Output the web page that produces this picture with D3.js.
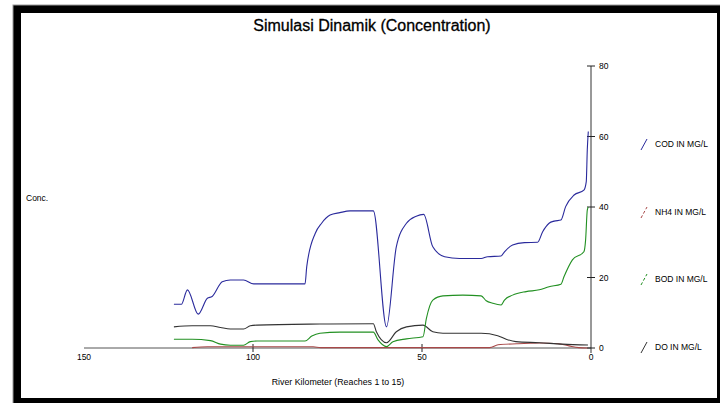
<!DOCTYPE html>
<html>
<head>
<meta charset="utf-8">
<script src="https://cdn.jsdelivr.net/npm/d3@7"></script>
<style>
  html, body { margin: 0; padding: 0; background: #fff; overflow: hidden; }
  text { font-family: "Liberation Sans", Arial, sans-serif; fill: #000; }
</style>
</head>
<body>
<svg id="svg" width="720" height="403"></svg>
<script>
    // River km (x) and concentration (y)
    var codKm  = [123.4, 121.2, 119.4, 116.2, 113.5, 112.1, 109.1, 106.7, 102.8, 99.8, 84.6, 84.1, 81.6, 79.7, 77.2, 74.3, 71.3, 64.4,
                  60.5, 57.6, 54.6, 51.7, 49.5, 46.8, 43.3, 38.9, 32.5, 30.6, 26.6, 25.6, 23.2, 19.7, 15.8, 14.3, 12.4, 10.9, 8.9,
                  7.5, 5.0, 2.1, 1.4, 1.1, 0.8];
    var codVal = [12.4, 12.4, 16.5, 9.6, 14.1, 14.6, 18.8, 19.3, 19.3, 18.2, 18.2, 23.1, 32.5, 35.4, 37.7, 38.4, 38.9, 38.9,
                  6.0, 28.7, 35.4, 37.4, 37.9, 28.7, 25.9, 25.4, 25.4, 25.9, 26.1, 27.3, 29.2, 29.9, 30.0, 33.0, 35.4, 36.0, 36.3,
                  40.1, 43.4, 44.8, 47.2, 56.2, 61.4];

    var bodKm  = [123.4, 118.0, 112.6, 109.6, 106.7, 102.8, 100.8, 98.8, 84.6, 82.6, 80.2, 74.3, 64.4, 63.0, 60.5, 58.6, 54.6,
                  49.7, 48.7, 46.8, 43.8, 37.9, 32.5, 31.0, 29.1, 26.6, 25.6, 23.2, 19.2, 15.3, 12.4, 8.9, 8.0, 5.5, 2.1, 1.6, 1.1, 0.8];
    var bodVal = [2.5, 2.5, 2.1, 1.1, 0.8, 0.8, 1.8, 2.0, 2.0, 3.4, 4.2, 4.5, 4.5, 2.3, 0.4, 1.8, 2.6,
                  3.2, 8.4, 13.6, 14.8, 15.0, 14.8, 13.4, 12.7, 12.2, 13.6, 15.0, 16.0, 16.5, 17.4, 18.1, 20.2, 25.0, 27.3, 30.6, 39.1, 40.0];

    var nh4Km  = [118.0, 113.5, 82.2, 80.0, 30.0, 27.5, 22.0, 15.3, 9.5, 6.5, 3.6, 1.0];
    var nh4Val = [0.1, 0.35, 0.35, 0.1, 0.1, 0.9, 1.2, 1.4, 1.2, 0.6, 0.1, 0.0];

    var doKm   = [123.4, 118.0, 112.6, 109.6, 106.7, 102.8, 100.8, 98.8, 80.2, 64.4, 63.5, 60.5, 57.6, 54.6, 49.7, 46.8,
                  43.8, 32.5, 27.6, 25.1, 22.2, 15.3, 8.5, 0.9];
    var doVal  = [6.0, 6.3, 6.3, 5.8, 5.4, 5.4, 6.3, 6.5, 6.8, 6.9, 4.6, 1.5, 4.6, 6.0, 6.5, 4.6,
                  4.2, 4.2, 3.5, 2.5, 1.8, 1.5, 1.1, 0.85];

    var xTicks = [150, 100, 50, 0];
    var yTicks = [0, 20, 40, 60, 80];
    var seriesNames = ['COD IN MG/L', 'NH4 IN MG/L', 'BOD IN MG/L', 'DO IN MG/L'];

    var series = [
        {name: seriesNames[0], km: codKm, val: codVal, color: '#2a2a9c', dash: null},
        {name: seriesNames[1], km: nh4Km, val: nh4Val, color: '#a84848', dash: '3,2'},
        {name: seriesNames[2], km: bodKm, val: bodVal, color: '#229022', dash: '3,2'},
        {name: seriesNames[3], km: doKm, val: doVal, color: '#333333', dash: null}
    ];

    var svg = d3.select("#svg");

    // frame
    svg.append("rect").attr("x", 13).attr("y", 5).attr("width", 720).attr("height", 410)
        .attr("fill", "#000").attr("stroke", "#999").attr("stroke-width", 1);
    svg.append("rect").attr("x", 21).attr("y", 13).attr("width", 696).attr("height", 385)
        .attr("fill", "#fff");

    var x = d3.scaleLinear().domain([150, 0]).range([84, 591]);
    var y = d3.scaleLinear().domain([0, 80]).range([348, 66]);

    // title and labels
    svg.append("text").attr("x", 372).attr("y", 31).attr("text-anchor", "middle")
        .style("font-size", "16px").style("stroke", "#000").style("stroke-width", "0.3px")
        .text("Simulasi Dinamik (Concentration)");
    svg.append("text").attr("x", 26).attr("y", 201).style("font-size", "8.5px").text("Conc.");
    svg.append("text").attr("x", 338).attr("y", 385).attr("text-anchor", "middle")
        .style("font-size", "8.8px").text("River Kilometer (Reaches 1 to 15)");

    // x axis
    var xAxis = svg.append("g");
    xAxis.append("line").attr("x1", x(150)).attr("x2", x(0)).attr("y1", y(0)).attr("y2", y(0))
        .attr("stroke", "#555").attr("stroke-width", 1);
    xAxis.selectAll(".xt").data(xTicks.filter(function (d) { return d > 0 && d < 150; }))
        .enter().append("line")
        .attr("x1", function (d) { return x(d); }).attr("x2", function (d) { return x(d); })
        .attr("y1", y(0) - 4).attr("y2", y(0) + 4).attr("stroke", "#222");
    xAxis.selectAll(".xl").data(xTicks).enter().append("text")
        .attr("x", function (d) { return x(d); }).attr("y", 360)
        .attr("text-anchor", "middle").style("font-size", "8.5px")
        .text(function (d) { return d; });

    // y axis on the right
    var yAxis = svg.append("g");
    yAxis.append("line").attr("x1", x(0)).attr("x2", x(0)).attr("y1", y(80)).attr("y2", y(0) + 5)
        .attr("stroke", "#333").attr("stroke-width", 1);
    yAxis.selectAll(".yt").data(yTicks).enter().append("line")
        .attr("x1", x(0) - 4).attr("x2", x(0) + 4)
        .attr("y1", function (d) { return y(d); }).attr("y2", function (d) { return y(d); })
        .attr("stroke", "#222");
    yAxis.selectAll(".yl").data(yTicks).enter().append("text")
        .attr("x", x(0) + 8).attr("y", function (d) { return y(d) + 3; })
        .style("font-size", "8.5px").text(function (d) { return d; });

    // lines
    var line = d3.line()
        .x(function (d) { return x(d[0]); })
        .y(function (d) { return y(d[1]); })
        .curve(d3.curveMonotoneX);

    svg.selectAll(".series").data([series[1], series[3], series[2], series[0]]).enter().append("path")
        .attr("class", "series")
        .attr("fill", "none")
        .attr("stroke", function (d) { return d.color; })
        .attr("stroke-width", 1.1)
        .attr("d", function (d) {
            return line(d.km.map(function (k, i) { return [k, d.val[i]]; }));
        });

    // legend
    var legY = [145, 213, 280, 348];
    var leg = svg.selectAll(".leg").data(series).enter().append("g")
        .attr("transform", function (d, i) { return "translate(0," + legY[i] + ")"; });
    leg.append("line").attr("x1", 641).attr("y1", 5).attr("x2", 647).attr("y2", -6)
        .attr("stroke", function (d) { return d.color; })
        .attr("stroke-dasharray", function (d) { return d.dash; });
    leg.append("text").attr("x", 655).attr("y", 2).style("font-size", "8.5px")
        .text(function (d) { return d.name; });
</script>
</body>
</html>
